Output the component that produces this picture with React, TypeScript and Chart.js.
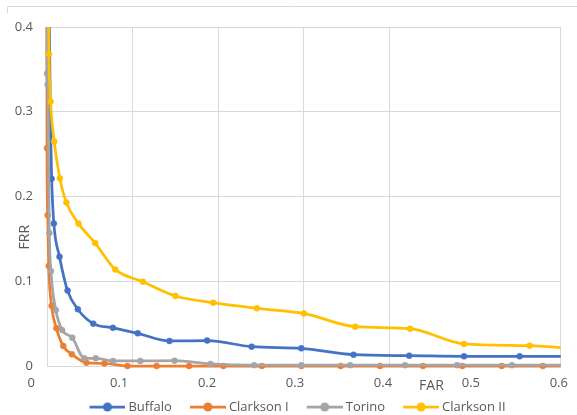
import React, { useEffect, useRef } from "react";
import { Chart, registerables } from "chart.js";

Chart.register(...registerables);

// ---- data (FAR on x, FRR on y) ----
const seriesNames = ["Buffalo", "Clarkson I", "Torino", "Clarkson II"];
const seriesColors = ["#4472C4", "#ED7D31", "#A5A5A5", "#FFC000"];

const buffaloFAR = [0.001, 0.0043, 0.0054, 0.008, 0.0146, 0.024, 0.036, 0.054, 0.077, 0.106, 0.143, 0.187, 0.239, 0.297, 0.358, 0.423, 0.487, 0.552, 0.62];
const buffaloFRR = [0.55, 0.273, 0.221, 0.168, 0.129, 0.089, 0.067, 0.05, 0.045, 0.0385, 0.0295, 0.03, 0.0228, 0.0208, 0.0133, 0.0122, 0.0114, 0.0114, 0.0114];

const clarkson1FAR = [-0.0003, 0.0, 0.0008, 0.002, 0.0054, 0.011, 0.019, 0.029, 0.046, 0.067, 0.094, 0.128, 0.166, 0.206, 0.251, 0.297, 0.343, 0.389, 0.439, 0.485, 0.531, 0.579, 0.625];
const clarkson1FRR = [0.6, 0.257, 0.178, 0.118, 0.071, 0.0445, 0.0236, 0.0138, 0.0039, 0.003, 0.0, 0.0, 0.0, 0.0, 0.0, 0.0, 0.0, 0.0, 0.0, 0.0, 0.0, 0.0, 0.0];

const torinoFAR = [-0.0003, 0.0, 0.0008, 0.0027, 0.0046, 0.0103, 0.0176, 0.0295, 0.0437, 0.057, 0.077, 0.109, 0.149, 0.191, 0.242, 0.297, 0.354, 0.418, 0.479, 0.543, 0.61];
const torinoFRR = [0.6, 0.345, 0.332, 0.157, 0.112, 0.066, 0.0425, 0.0334, 0.009, 0.009, 0.006, 0.006, 0.0063, 0.0024, 0.001, 0.001, 0.001, 0.001, 0.001, 0.001, 0.001];

const clarkson2FAR = [0.0, 0.0023, 0.0042, 0.0084, 0.015, 0.0226, 0.0368, 0.0563, 0.0797, 0.112, 0.15, 0.194, 0.245, 0.3, 0.36, 0.424, 0.487, 0.5636, 0.63];
const clarkson2FRR = [0.6, 0.368, 0.312, 0.265, 0.2215, 0.193, 0.168, 0.145, 0.114, 0.0995, 0.0826, 0.0747, 0.068, 0.062, 0.0464, 0.044, 0.026, 0.024, 0.019];

const xTickValues = [0, 0.1, 0.2, 0.3, 0.4, 0.5, 0.6];
const xTickLabels = ["0", "0.1", "0.2", "0.3", "0.4", "0.5", "0.6"];
const yTickValues = [0, 0.1, 0.2, 0.3, 0.4];
const yTickLabels = ["0", "0.1", "0.2", "0.3", "0.4"];
const xTitle = "FAR";
const yTitle = "FRR";

const allFAR = [buffaloFAR, clarkson1FAR, torinoFAR, clarkson2FAR];
const allFRR = [buffaloFRR, clarkson1FRR, torinoFRR, clarkson2FRR];

const FONT = "'Open Sans', 'Noto Sans', sans-serif";
const TEXT = "#595959";
const GRID = "#d9d9d9";

// legend symbol: line with a dot, drawn in the right part of a wider image
function makeIcon(color: string) {
  const c = document.createElement("canvas");
  c.width = 48;
  c.height = 12;
  const g = c.getContext("2d")!;
  g.strokeStyle = color;
  g.lineWidth = 2.75;
  g.beginPath();
  g.moveTo(12, 6);
  g.lineTo(48, 6);
  g.stroke();
  g.fillStyle = color;
  g.beginPath();
  g.arc(30, 6, 4.5, 0, Math.PI * 2);
  g.fill();
  return c;
}

const decorPlugin = {
  id: "decor",
  beforeDraw(chart: any) {
    const ctx = chart.ctx;
    ctx.save();
    ctx.strokeStyle = GRID;
    ctx.lineWidth = 1;
    ctx.beginPath();
    ctx.moveTo(7.5, 13);
    ctx.lineTo(7.5, 6.5);
    ctx.lineTo(577, 6.5);
    ctx.stroke();
    ctx.restore();
  },
  afterDraw(chart: any) {
    const ctx = chart.ctx;
    const xs = chart.scales.x;
    const ys = chart.scales.y;
    ctx.save();
    ctx.fillStyle = TEXT;
    ctx.font = `14px ${FONT}`;
    ctx.textAlign = "center";
    ctx.textBaseline = "middle";
    ctx.fillText(xTitle, xs.getPixelForValue(0.449), 386);
    ctx.translate(25, ys.getPixelForValue(0.152));
    ctx.rotate(-Math.PI / 2);
    ctx.fillText(yTitle, 0, 0);
    ctx.restore();
  },
};

export default function App() {
  const ref = useRef<HTMLCanvasElement | null>(null);

  useEffect(() => {
    if (!ref.current) return;
    const icons = seriesColors.map(makeIcon);
    const datasets = seriesNames.map((name, i) => ({
      label: name,
      data: allFAR[i].map((x, j) => ({ x, y: allFRR[i][j] })),
      xAxisID: "x",
      yAxisID: "y",
      borderColor: seriesColors[i],
      backgroundColor: seriesColors[i],
      pointBackgroundColor: seriesColors[i],
      pointBorderColor: seriesColors[i],
      pointRadius: 3,
      pointBorderWidth: 0.5,
      borderWidth: 2.75,
      cubicInterpolationMode: "monotone" as const,
      fill: false,
      order: seriesNames.length - 1 - i,
      clip: { left: 5, top: 0, right: 0, bottom: 5 },
    }));

    const chart = new Chart(ref.current, {
      type: "line",
      data: { datasets },
      plugins: [decorPlugin],
      options: {
        animation: false,
        responsive: false,
        events: [],
        layout: { padding: { top: 27, left: 8, right: -1.5, bottom: -8.5 } },
        scales: {
          x: {
            type: "linear",
            position: "bottom",
            weight: 0,
            min: 0,
            max: 0.6,
            afterBuildTicks: (s: any) => {
              s.ticks = xTickValues.map((v) => ({ value: v }));
            },
            afterFit: (s: any) => {
              s.height = 0;
            },
            ticks: { display: false },
            grid: {
              drawTicks: false,
              color: (c: any) =>
                c.tick && Math.abs(c.tick.value - 0.5) < 1e-9 ? "rgba(0,0,0,0)" : GRID,
            },
            border: { display: false },
          },
          xl: {
            type: "linear",
            position: "bottom",
            weight: 1,
            min: 16 / 891.7,
            max: 16 / 891.7 + 521 / 891.7,
            afterBuildTicks: (s: any) => {
              s.ticks = xTickValues.map((v) => ({ value: v }));
            },
            afterFit: (s: any) => {
              s.height = 25;
            },
            grid: { display: false, drawTicks: false },
            border: { display: false },
            ticks: {
              autoSkip: false,
              maxRotation: 0,
              padding: 9,
              color: TEXT,
              font: { family: FONT, size: 13 },
              callback: (_v: any, i: number) => xTickLabels[i],
            },
          },
          y: {
            type: "linear",
            position: "left",
            min: 0,
            max: 0.4,
            afterBuildTicks: (s: any) => {
              s.ticks = yTickValues.map((v) => ({ value: v }));
            },
            afterFit: (s: any) => {
              s.width = 39;
            },
            grid: { drawTicks: false, color: GRID },
            border: { display: false },
            ticks: {
              padding: 14,
              color: TEXT,
              font: { family: FONT, size: 13 },
              callback: (_v: any, i: number) => yTickLabels[i],
            },
          },
          yr: {
            type: "linear",
            position: "right",
            min: 0,
            max: 0.4,
            afterFit: (s: any) => {
              s.width = 10.5;
            },
            grid: { display: false, drawTicks: false },
            border: { display: false },
            ticks: { display: false },
          },
        },
        plugins: {
          tooltip: { enabled: false },
          title: { display: false },
          legend: {
            position: "bottom",
            labels: {
              usePointStyle: true,
              pointStyleWidth: 41,
              padding: 9.5,
              color: TEXT,
              font: { family: FONT, size: 13 },
              generateLabels: (ch: any) => {
                const items = (Chart.defaults as any).plugins.legend.labels.generateLabels(ch);
                items.sort((a: any, b: any) => a.datasetIndex - b.datasetIndex);
                return items.map((it: any) => ({
                  ...it,
                  pointStyle: icons[it.datasetIndex],
                  fontColor: TEXT,
                }));
              },
            },
          },
        },
      } as any,
    });
    return () => chart.destroy();
  }, []);

  return (
    <div style={{ position: "fixed", left: 0, top: 0, width: 577, height: 415, background: "#fff" }}>
      <canvas ref={ref} width={577} height={415} style={{ display: "block" }} />
    </div>
  );
}
